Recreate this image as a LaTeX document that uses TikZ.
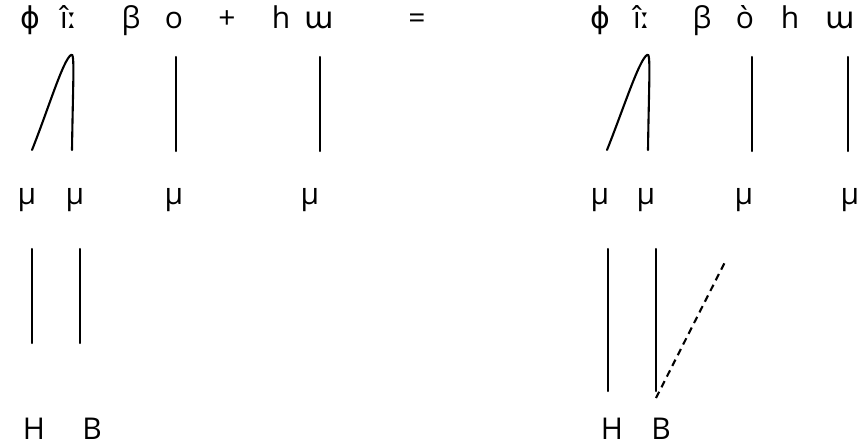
\documentclass[tikz,border=0pt]{standalone}
\usepackage{fontspec}
\setmainfont{Open Sans}
\newfontfamily\ipafont{DejaVu Sans}
\begin{document}
\begin{tikzpicture}[x=1pt,y=-1pt,
  lbl/.style={inner sep=0pt,anchor=base,font=\fontsize{30}{36}\selectfont},
  stroke/.style={line width=2.1pt,line cap=round},
  dashline/.style={line width=2.1pt,dash pattern=on 7pt off 5pt}]
\useasboundingbox (0,0) rectangle (862,445);
% top row left
\node[lbl] (a1) at (30,28) {{\ipafont ϕ}};
\node[lbl] (a2) at (69,28) {î{\ipafont ː}};
\node[lbl] (a3) at (131,28) {β};
\node[lbl] (a4) at (174,28) {o};
\node[lbl] (a5) at (227,28) {+};
\node[lbl] (a6) at (281,28) {h};
\node[lbl] (a7) at (319,28) {{\ipafont ɯ}};
\node[lbl] (eq) at (417,28) {=};
% top row right
\node[lbl] (b1) at (600,28) {{\ipafont ϕ}};
\node[lbl] (b2) at (642,28) {î{\ipafont ː}};
\node[lbl] (b3) at (702,28) {β};
\node[lbl] (b4) at (745,28) {ò};
\node[lbl] (b5) at (790,28) {h};
\node[lbl] (b6) at (840,28) {{\ipafont ɯ}};
% mu row
\node[lbl] (m1) at (27,204) {μ};
\node[lbl] (m2) at (75,204) {μ};
\node[lbl] (m3) at (174,204) {μ};
\node[lbl] (m4) at (310,204) {μ};
\node[lbl] (n1) at (600,204) {μ};
\node[lbl] (n2) at (646,204) {μ};
\node[lbl] (n3) at (744,204) {μ};
\node[lbl] (n4) at (850,204) {μ};
% bottom
\node[lbl] (h1) at (34,439) {H};
\node[lbl] (k1) at (92,439) {B};
\node[lbl] (h2) at (612,439) {H};
\node[lbl] (k2) at (661,439) {B};
% coordinates
\coordinate (la) at (32,150); \coordinate (lt) at (71,55); \coordinate (lb) at (72,150);
\coordinate (ra) at (607,150); \coordinate (rt) at (647,55); \coordinate (rb) at (648,150);
\coordinate (v1t) at (176,57); \coordinate (v1b) at (176,151);
\coordinate (v2t) at (320,57); \coordinate (v2b) at (320,151);
\coordinate (v3t) at (752,57); \coordinate (v3b) at (752,151);
\coordinate (v4t) at (848,57); \coordinate (v4b) at (848,151);
\coordinate (p1t) at (32,249); \coordinate (p1b) at (32,343);
\coordinate (p2t) at (80,249); \coordinate (p2b) at (80,343);
\coordinate (q1t) at (608,249); \coordinate (q1b) at (608,391);
\coordinate (q2t) at (656,249); \coordinate (q2b) at (656,391);
\coordinate (ds) at (656,398); \coordinate (de) at (725,262);
% curves
\draw[stroke] (la) .. controls (48,110) and (63,60) .. (lt) .. controls (75,51) and (73,80) .. (lb);
\draw[stroke] (ra) .. controls (623,110) and (639,60) .. (rt) .. controls (651,51) and (649,80) .. (rb);
\draw[stroke] (v1t) -- (v1b);
\draw[stroke] (v2t) -- (v2b);
\draw[stroke] (v3t) -- (v3b);
\draw[stroke] (v4t) -- (v4b);
\draw[stroke] (p1t) -- (p1b);
\draw[stroke] (p2t) -- (p2b);
\draw[stroke] (q1t) -- (q1b);
\draw[stroke] (q2t) -- (q2b);
\draw[dashline] (ds) -- (de);
\end{tikzpicture}
\end{document}
